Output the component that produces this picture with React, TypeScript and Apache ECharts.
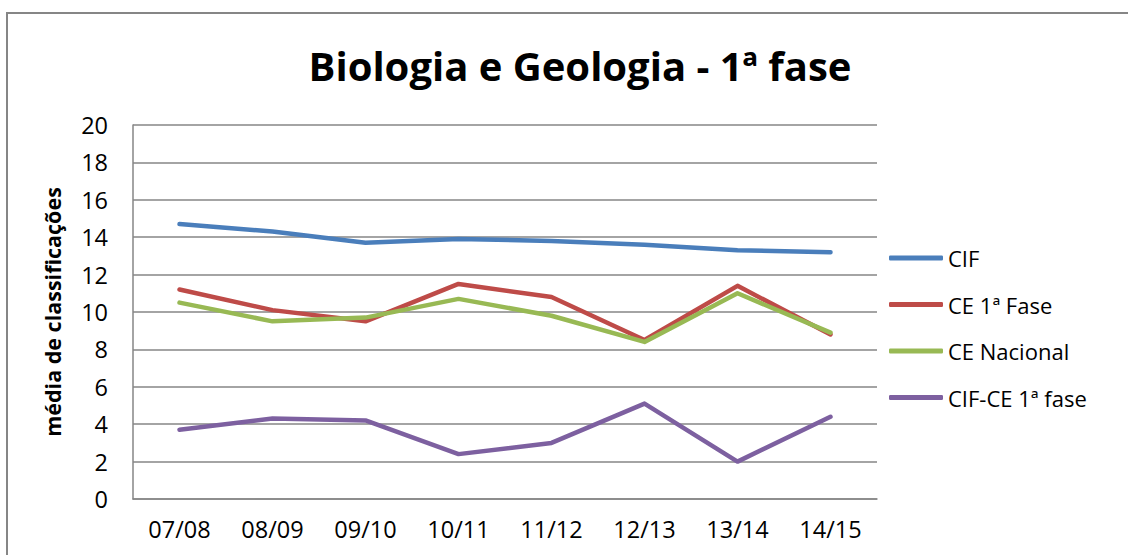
import React, { useEffect, useRef } from "react";
import * as echarts from "echarts";

const categories = ["07/08", "08/09", "09/10", "10/11", "11/12", "12/13", "13/14", "14/15"];
const cif = [14.7, 14.3, 13.7, 13.9, 13.8, 13.6, 13.3, 13.2];
const ce1Fase = [11.2, 10.1, 9.5, 11.5, 10.8, 8.5, 11.4, 8.8];
const ceNacional = [10.5, 9.5, 9.7, 10.7, 9.8, 8.4, 11.0, 8.9];
const cifMinusCe = [3.7, 4.3, 4.2, 2.4, 3.0, 5.1, 2.0, 4.4];
const seriesNames = ["CIF", "CE 1ª Fase", "CE Nacional", "CIF-CE 1ª fase"];
const colors = ["#4A7EBB", "#BE4B48", "#98B954", "#7D60A0"];

const FONT = "'Open Sans', sans-serif";

export default function App() {
  const ref = useRef<HTMLDivElement>(null);
  useEffect(() => {
    if (!ref.current) return;
    const chart = echarts.init(ref.current, undefined, { renderer: "svg" });
    const data = [cif, ce1Fase, ceNacional, cifMinusCe];
    chart.setOption({
      animation: false,
      backgroundColor: "#ffffff",
      textStyle: { fontFamily: FONT },
      title: {
        text: "Biologia e Geologia - 1ª fase",
        left: 575,
        textAlign: "center",
        top: 40,
        textStyle: { fontFamily: FONT, fontSize: 40, fontWeight: "bold", color: "#000" },
      },
      graphic: [
        {
          type: "rect",
          shape: { x: 7, y: 13, width: 1200, height: 600 },
          style: { fill: "none", stroke: "#868686", lineWidth: 2 },
          silent: true,
          z: -10,
        },
      ],
      legend: {
        orient: "vertical",
        left: 889,
        top: 246,
        padding: 0,
        itemGap: 22.5,
        itemWidth: 54,
        itemHeight: 5,
        icon: "roundRect",
        textStyle: { fontFamily: FONT, fontSize: 22, color: "#000", lineHeight: 24 },
        data: seriesNames,
      },
      grid: { left: 133, right: 251, top: 125, bottom: 56, containLabel: false },
      xAxis: {
        type: "category",
        data: categories,
        boundaryGap: true,
        axisLine: { show: true, lineStyle: { color: "#868686", width: 1.5 } },
        axisTick: { show: false },
        axisLabel: { fontFamily: FONT, fontSize: 23.5, color: "#000", margin: 18 },
      },
      yAxis: {
        type: "value",
        min: 0,
        max: 20,
        interval: 2,
        name: "média de classificações",
        nameLocation: "middle",
        nameGap: 70,
        nameTextStyle: { fontFamily: FONT, fontSize: 21.5, fontWeight: "bold", color: "#000" },
        axisLine: { show: true, lineStyle: { color: "#868686", width: 1.5 } },
        axisTick: { show: false },
        axisLabel: { fontFamily: FONT, fontSize: 23.5, color: "#000", margin: 25 },
        splitLine: { show: true, lineStyle: { color: "#868686", width: 1.5 } },
      },
      series: seriesNames.map((name, i) => ({
        name,
        type: "line",
        data: data[i],
        symbol: "none",
        color: colors[i],
        lineStyle: { color: colors[i], width: 4.5, cap: "round", join: "round" },
        itemStyle: { color: colors[i] },
      })),
    });
    return () => chart.dispose();
  }, []);
  return (
    <div
      ref={ref}
      style={{ position: "fixed", left: 0, top: 0, width: 1128, height: 555 }}
    />
  );
}
